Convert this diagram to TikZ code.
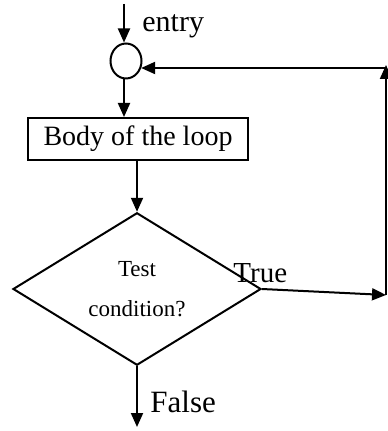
\documentclass[tikz,border=0pt]{standalone}
\usepackage{fontspec}
\setmainfont{Liberation Serif}
\usetikzlibrary{shapes.geometric,arrows.meta}

\tikzset{
  flow/.style={line width=1pt,-{Triangle[length=7pt,width=6pt]}},
  plain/.style={line width=1pt}
}

\begin{document}
\begin{tikzpicture}[x=0.5pt,y=-0.5pt]
\useasboundingbox (0,0) rectangle (387,431);

\node[draw,plain,ellipse,inner sep=0pt,minimum width=15.5pt,minimum height=17.5pt] (join) at (126,61) {};
\node[draw,plain,rectangle,minimum width=110pt,minimum height=21pt,inner sep=0pt,
  font=\fontsize{14}{16}\selectfont] (body) at (138,139) {Body of the loop};
\node[draw,plain,diamond,minimum width=124pt,minimum height=72pt,inner sep=0pt,align=center,
  font=\fontsize{11.5}{20}\selectfont] (test) at (137,289) {Test\\condition?};

\coordinate (entry) at (124,4);
\coordinate (exit) at (137,427);
\coordinate (tright) at (386,295);
\coordinate (ttop) at (386,68);

\draw[flow] (entry) -- (entry |- join.north);
\draw[flow] (entry |- join.south) -- (entry |- body.north);
\draw[flow] (test.north |- body.south) -- (test.north);
\draw[flow] (test.south) -- (exit);
\draw[flow] (test.east) -- (tright);
\draw[flow] (tright) -- ([yshift=1.5pt]ttop);
\draw[flow] (ttop) -- (ttop -| join.-26);

\node[anchor=base west,inner sep=0pt,font=\fontsize{15}{17}\selectfont] (entrytxt) at (142,32) {entry};
\node[anchor=base west,inner sep=0pt,font=\fontsize{14.5}{17}\selectfont] (truetxt) at (233,283) {True};
\node[anchor=base west,inner sep=0pt,font=\fontsize{15.5}{18}\selectfont] (falsetxt) at (150,412) {False};
\end{tikzpicture}
\end{document}
